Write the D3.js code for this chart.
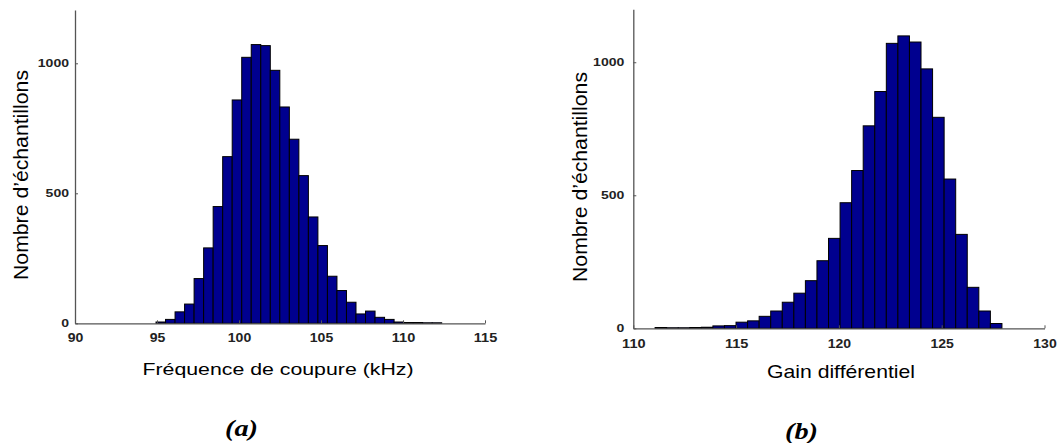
<!DOCTYPE html>
<html>
<head>
<meta charset="utf-8">
<title>histogrammes</title>
<style>
    body { margin: 0; background: #fff; }
    svg { display: block; }
    .sans { font-family: 'Liberation Sans', Arial, Helvetica, sans-serif; }
    .serif { font-family: 'Liberation Serif', 'Times New Roman', Times, serif; }
</style>
</head>
<body>
<svg width="1061" height="443"></svg>
<script src="https://cdn.jsdelivr.net/npm/d3@7/dist/d3.min.js"></script>
<script>

// (a) frequence de coupure, kHz : 30 classes entre rangeA[0] et rangeA[1]
var rangeA  = [94.94, 112.36];
var countsA = [5, 15, 44, 74, 172, 290, 449, 641, 859, 1023,
               1072, 1068, 973, 832, 708, 568, 409, 299, 181, 126,
               81, 36, 47, 23, 15, 5, 3, 3, 2, 2];

// (b) gain differentiel : 30 classes
var rangeB  = [111.06, 127.93];
var countsB = [3, 2, 2, 3, 4, 9, 10, 23, 28, 45,
               65, 98, 132, 179, 254, 338, 472, 593, 761, 890,
               1071, 1099, 1076, 975, 793, 561, 353, 154, 65, 18];

var ticksXA = [90, 95, 100, 105, 110, 115];
var ticksXB = [110, 115, 120, 125, 130];
var ticksY  = [0, 500, 1000];

var labelsX = ['Fréquence de coupure (kHz)', 'Gain différentiel'];
var labelY  = 'Nombre d\u2019échantillons';
var panels  = ['(a)', '(b)'];

var svg = d3.select('svg');
svg.append('rect').attr('width', 1061).attr('height', 443).attr('fill', '#fff');

drawHist({
    range: rangeA, counts: countsA, xTicks: ticksXA,
    xDom: [90, 115], xPix: [75, 485],
    yDom: [0, 1205], yPix: [323.3, 10],
    xPad: 10, yPad: 6,
    yLab: [21, 175], xLab: [278, 375, 17, 271], xText: labelsX[0],
    panel: [241.5, 435.5], panelText: panels[0]
});

drawHist({
    range: rangeB, counts: countsB, xTicks: ticksXB,
    xDom: [110, 130], xPix: [633.3, 1044.5],
    yDom: [0, 1199], yPix: [328.3, 9.3],
    xPad: 11, yPad: 9,
    yLab: [579.5, 177], xLab: [841, 378, 19, 148], xText: labelsX[1],
    panel: [801.5, 439], panelText: panels[1]
});

function drawHist(c) {
    var x = d3.scaleLinear().domain(c.xDom).range(c.xPix);
    var y = d3.scaleLinear().domain(c.yDom).range(c.yPix);
    var n = c.counts.length;
    var w = (c.range[1] - c.range[0]) / n;
    var bins = c.counts.map(function(v, i) {
        return { x0: c.range[0] + i * w, x1: c.range[0] + (i + 1) * w, v: v };
    });

    var g = svg.append('g');

    g.selectAll('rect.bar').data(bins).enter().append('rect')
        .attr('class', 'bar')
        .attr('x', function(d) { return x(d.x0); })
        .attr('width', function(d) { return x(d.x1) - x(d.x0); })
        .attr('y', function(d) { return y(d.v); })
        .attr('height', function(d) { return y(0) - y(d.v); })
        .attr('fill', '#00008f')
        .attr('stroke', '#000')
        .attr('stroke-width', 1);

    var fmt = d3.format('d');
    var xAxis = d3.axisBottom(x).tickValues(c.xTicks).tickFormat(fmt).tickSizeInner(-3).tickSizeOuter(0).tickPadding(c.xPad);
    var yAxis = d3.axisLeft(y).tickValues(ticksY).tickFormat(fmt).tickSizeInner(-3).tickSizeOuter(0).tickPadding(c.yPad);

    var gx = g.append('g').attr('transform', 'translate(0,' + y(0) + ')').call(xAxis);
    var gy = g.append('g').attr('transform', 'translate(' + x(c.xDom[0]) + ',0)').call(yAxis);

    [gx, gy].forEach(function(a) {
        a.attr('font-family', null);
        a.select('.domain').attr('stroke', '#555').attr('stroke-width', 1.3);
        a.selectAll('.tick line').attr('stroke', '#555');
        a.selectAll('.tick text')
            .attr('class', 'sans')
            .attr('fill', '#222')
            .style('font-weight', 'bold')
            .attr('lengthAdjust', 'spacingAndGlyphs')
            .attr('textLength', function(d) { return String(d).length * 7.8; });
    });
    gx.selectAll('.tick text').style('font-size', '12px');
    gy.selectAll('.tick text').style('font-size', '11px');

    g.append('text')
        .attr('class', 'sans')
        .attr('transform', 'translate(' + c.yLab[0] + ',' + c.yLab[1] + ') rotate(-90)')
        .attr('text-anchor', 'middle')
        .attr('dy', '0.35em')
        .style('font-size', '20px')
        .attr('lengthAdjust', 'spacingAndGlyphs')
        .attr('textLength', 210)
        .text(labelY);

    g.append('text')
        .attr('class', 'sans')
        .attr('x', c.xLab[0]).attr('y', c.xLab[1])
        .attr('text-anchor', 'middle')
        .style('font-size', c.xLab[2] + 'px')
        .attr('lengthAdjust', 'spacingAndGlyphs')
        .attr('textLength', c.xLab[3])
        .text(c.xText);

    g.append('text')
        .attr('class', 'serif')
        .attr('x', c.panel[0]).attr('y', c.panel[1])
        .attr('text-anchor', 'middle')
        .style('font-weight', 'bold')
        .style('font-style', 'italic')
        .style('font-size', '24px')
        .attr('lengthAdjust', 'spacingAndGlyphs')
        .attr('textLength', 33)
        .text(c.panelText);
}

</script>
</body>
</html>
